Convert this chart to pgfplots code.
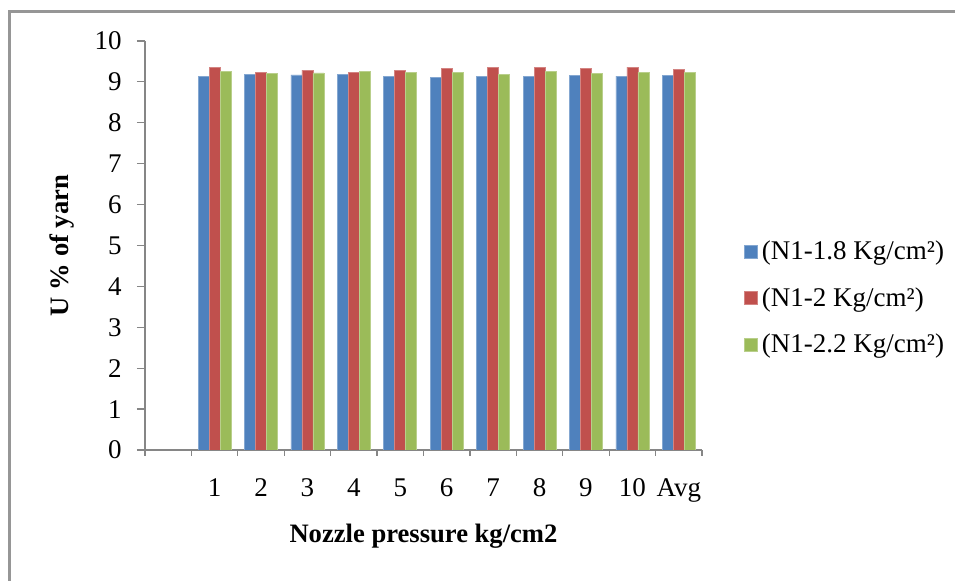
\documentclass[border=0pt]{standalone}
\usepackage{fontspec}
\setmainfont{Liberation Serif}
\usepackage{pgfplots}
\pgfplotsset{compat=1.18}
\definecolor{sblue}{HTML}{4F81BD}
\definecolor{sred}{HTML}{C0504D}
\definecolor{sgreen}{HTML}{9BBB59}
\definecolor{axgray}{HTML}{868686}
\definecolor{framegray}{HTML}{969696}
\begin{document}
\begin{tikzpicture}[x=1pt,y=1pt]
\useasboundingbox (-72.5,-65.5) rectangle (405,225);
\begin{axis}[
  at={(0,0)}, anchor=south west,
  scale only axis, width=278.5pt, height=204.5pt,
  xmin=-0.5, xmax=11.5, ymin=0, ymax=10,
  axis x line=bottom, axis y line=left,
  axis line style={draw=axgray, line width=0.6pt, -},
  ybar=0pt, bar width=5.5pt,
  ytick={0,1,...,10},
  xtick={1,...,11}, xticklabels={1,2,3,4,5,6,7,8,9,10,Avg},
  minor xtick={-0.5,0.5,...,11.5},
  major x tick style={draw=none},
  minor x tick style={draw=axgray, line width=0.6pt},
  major y tick style={draw=axgray, line width=0.6pt},
  tick align=outside,
  major tick length=4pt, minor tick length=3pt,
  /pgf/number format/assume math mode=true,
  tick label style={font=\fontsize{13.5}{16}\selectfont, inner sep=0pt},
  yticklabel style={anchor=east, xshift=-7.5pt},
  xticklabel style={anchor=base, yshift=-19.5pt},
  xlabel={\textbf{Nozzle pressure kg/cm2}},
  ylabel={\textbf{U \% of yarn}},
  label style={font=\fontsize{13.3}{16}\selectfont, inner sep=0pt},
  xlabel style={at={(axis description cs:0.5,-0.2274)}, anchor=base},
  ylabel style={at={(axis description cs:-0.1382,0.5)}, anchor=base},
  legend style={at={(rel axis cs:1.0754,0.371)}, anchor=west, draw=none, fill=none,
    font=\fontsize{13.5}{16}\selectfont, inner sep=0pt, row sep=8.5pt},
  legend cell align=left,
  legend image code/.code={\fill[#1] (0pt,-3.25pt) rectangle (6.5pt,3.25pt);},
]
\addplot[fill=sblue, draw=sblue!70!white, line width=0.3pt] coordinates {(1,9.14) (2,9.19) (3,9.17) (4,9.19) (5,9.13) (6,9.11) (7,9.13) (8,9.13) (9,9.16) (10,9.14) (11,9.16)};
\addplot[fill=sred, draw=sred!70!white, line width=0.3pt] coordinates {(1,9.36) (2,9.24) (3,9.29) (4,9.24) (5,9.29) (6,9.32) (7,9.35) (8,9.36) (9,9.33) (10,9.36) (11,9.31)};
\addplot[fill=sgreen, draw=sgreen!70!white, line width=0.3pt] coordinates {(1,9.25) (2,9.20) (3,9.22) (4,9.26) (5,9.24) (6,9.24) (7,9.19) (8,9.25) (9,9.20) (10,9.24) (11,9.23)};
\legend{(N1-1.8 Kg/cm²),(N1-2 Kg/cm²),(N1-2.2 Kg/cm²)}
\end{axis}
\draw[framegray, line width=1.5pt] (-67.5,-70) -- (-67.5,219) -- (410,219);
\end{tikzpicture}
\end{document}
